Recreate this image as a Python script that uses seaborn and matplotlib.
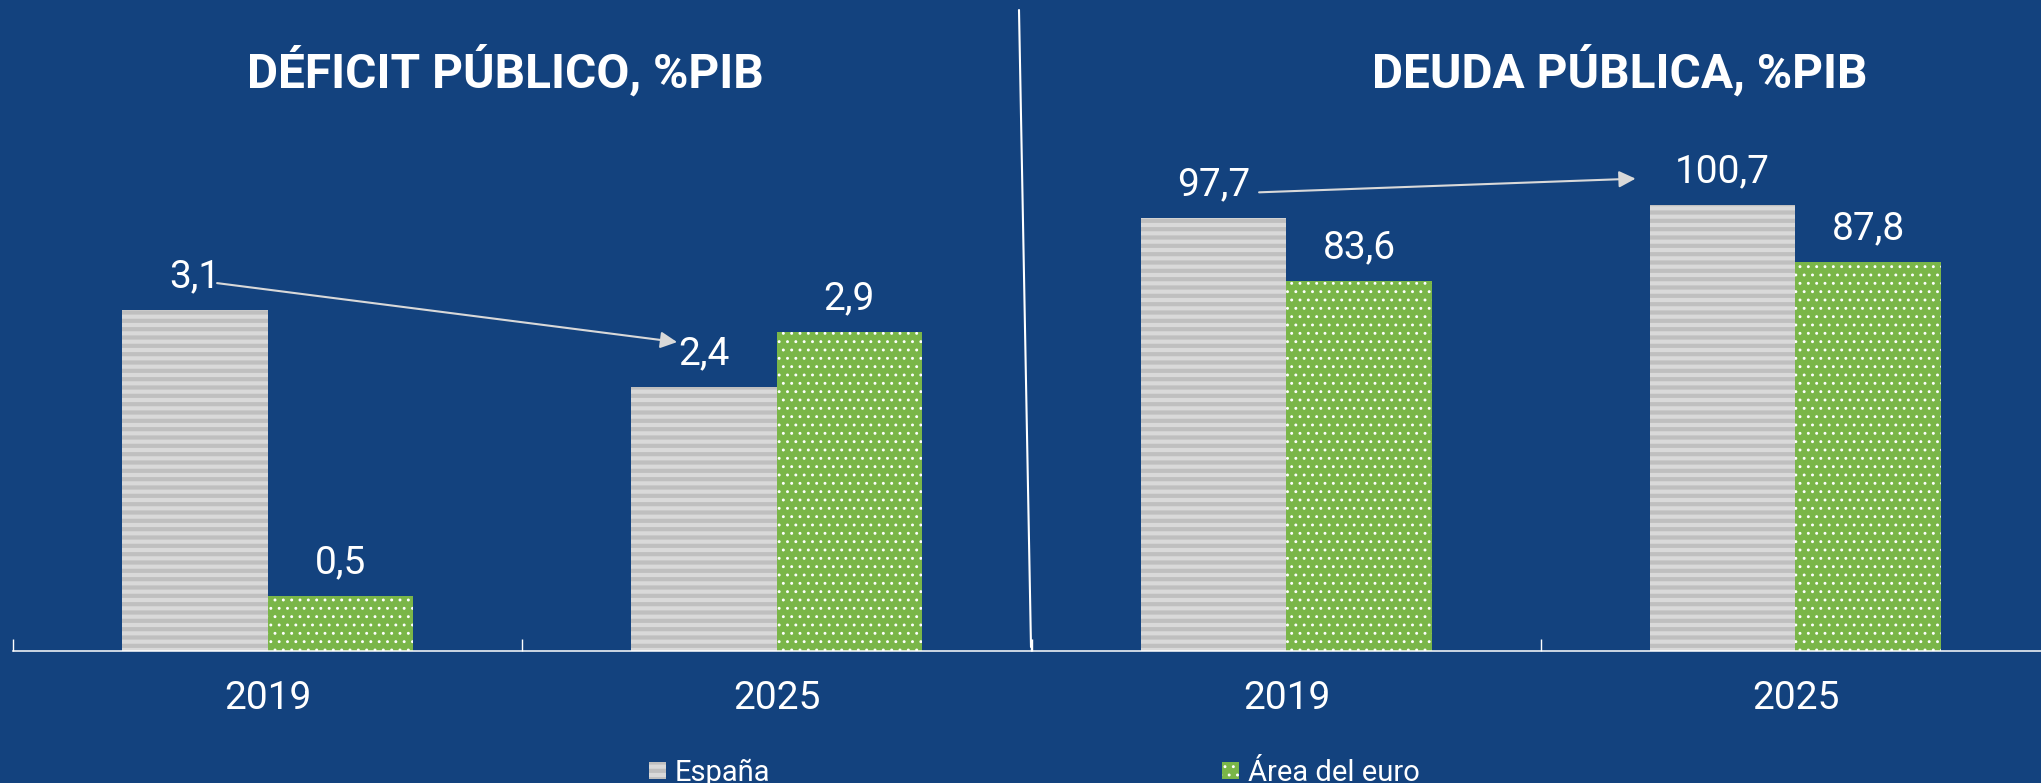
# %%
# Gráfico: déficit y deuda pública, España vs. área del euro
import pandas as pd
import matplotlib.pyplot as plt
import seaborn as sns
from matplotlib.patches import Patch
from matplotlib.transforms import offset_copy

# %%
# Datos
anios = ['2019', '2025']
series = ['España', 'Área del euro']
deficit_espana = [3.1, 2.4]
deficit_euro = [0.5, 2.9]
deuda_espana = [97.7, 100.7]
deuda_euro = [83.6, 87.8]

# Colores
azul = '#13427e'
gris = '#d9d9d9'
gris_oscuro = '#bfbfbf'
verde = '#7ab648'

sns.set_style('white')
plt.rcParams['font.family'] = ['Roboto', 'DejaVu Sans']


def tabla(espana, euro):
    # formato largo para seaborn
    return pd.DataFrame({
        'anio': anios * 2,
        'serie': [series[0]] * len(anios) + [series[1]] * len(anios),
        'valor': espana + euro,
    })


def etiqueta(v):
    return f'{v:.1f}'.replace('.', ',')


def dibujar(ax, df, ymax):
    sns.barplot(data=df, x='anio', y='valor', hue='serie', hue_order=series,
                palette=[gris, verde], width=0.573, gap=0, saturation=1,
                errorbar=None, legend=False, ax=ax)

    # tramas: rayas grises para España, puntos blancos para el área del euro
    for barra in ax.containers[0]:
        barra.set_hatch('--')
        barra.set_edgecolor(gris_oscuro)
        barra.set_linewidth(0)
        barra.set_hatch_linewidth(3)
    for barra in ax.containers[1]:
        barra.set_hatch('..')
        barra.set_edgecolor('white')
        barra.set_linewidth(0)
        barra.set_hatch_linewidth(0.9)

    for cont in ax.containers:
        ax.bar_label(cont, labels=[etiqueta(b.get_height()) for b in cont],
                     padding=10.5, color='white', fontsize=28)

    ax.set_xlim(-0.5, 1.5)
    ax.set_ylim(0, ymax)
    ax.set_yticks([])
    ax.set_xlabel('')
    ax.set_ylabel('')
    ax.set_xticks([-0.5, 0.5, 1.5], minor=True)
    ax.tick_params(axis='x', which='minor', direction='in', length=8.6,
                   width=1, color='white', bottom=True)
    ax.tick_params(axis='x', which='major', length=0, pad=21,
                   labelsize=28, labelcolor='white')
    for lado in ['left', 'right', 'top']:
        ax.spines[lado].set_visible(False)
    ax.spines['bottom'].set_color('white')
    ax.spines['bottom'].set_linewidth(1.1)
    ax.set_facecolor('none')


def flecha(ax, barra0, d0, barra1, d1):
    # flecha entre las etiquetas de España, desplazada en píxeles desde la barra
    x0 = barra0.get_x() + barra0.get_width() / 2
    x1 = barra1.get_x() + barra1.get_width() / 2
    t0 = offset_copy(ax.transData, fig=fig, x=d0[0], y=d0[1], units='dots')
    t1 = offset_copy(ax.transData, fig=fig, x=d1[0], y=d1[1], units='dots')
    ax.annotate('', xy=(x1, barra1.get_height()), xycoords=t1,
                xytext=(x0, barra0.get_height()), textcoords=t0,
                arrowprops=dict(arrowstyle='-|>', color=gris, lw=1.5,
                                mutation_scale=25, shrinkA=0, shrinkB=0))


# %%
fig = plt.figure(figsize=(20.41, 7.83), dpi=100, facecolor=azul)
ax1 = fig.add_axes([0.00637, 0.16858, 0.49878, 0.83142])
ax2 = fig.add_axes([0.50563, 0.16858, 0.49878, 0.83142])

dibujar(ax1, tabla(deficit_espana, deficit_euro), 5.92)
dibujar(ax2, tabla(deuda_espana, deuda_euro), 147)

flecha(ax1, ax1.containers[0][0], (22.5, 27), ax1.containers[0][1], (-26.5, 45))
flecha(ax2, ax2.containers[0][0], (45.5, 26), ax2.containers[0][1], (-87, 26.4))

# Títulos
fig.text(0.2478, 0.8876, 'DÉFICIT PÚBLICO, %PIB', ha='center', va='baseline',
         fontsize=34.5, fontweight='bold', color='white')
fig.text(0.7937, 0.8876, 'DEUDA PÚBLICA, %PIB', ha='center', va='baseline',
         fontsize=34.5, fontweight='bold', color='white')

# Línea separadora entre los dos paneles
fig.add_artist(plt.Line2D([1019 / 2041, 1031 / 2041], [1 - 10 / 783, 1 - 647 / 783],
                          transform=fig.transFigure, color='white', lw=1.5))

# Leyenda
manijas = [Patch(facecolor=gris, edgecolor=gris_oscuro, hatch='--', lw=0),
           Patch(facecolor=verde, edgecolor='white', hatch='..', lw=0)]
ley = fig.legend(handles=manijas, labels=series, loc='lower left',
                 bbox_to_anchor=(649 / 2041, -0.005), ncol=2, frameon=False,
                 fontsize=21, handlelength=0.58, handleheight=0.52, handletextpad=0.3,
                 columnspacing=15.5, borderpad=0, borderaxespad=0, labelcolor='white')
ley.legend_handles[0].set_hatch_linewidth(3)
ley.legend_handles[1].set_hatch_linewidth(0.9)

fig.savefig('out.png', dpi=100, facecolor=azul)
